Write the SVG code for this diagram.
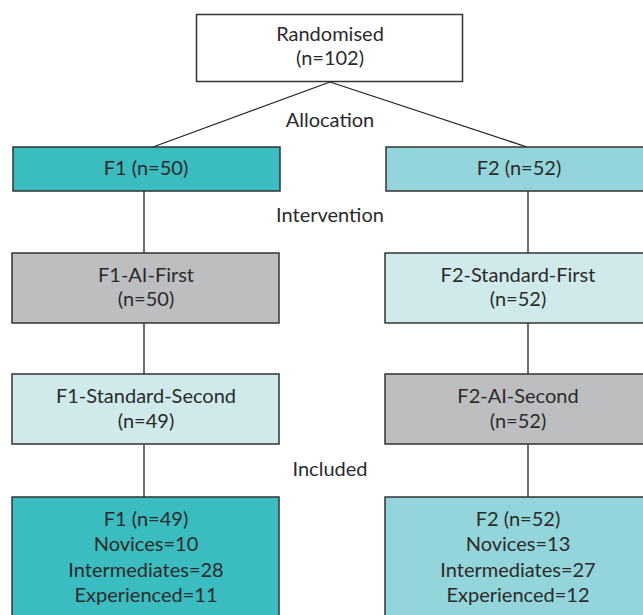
<svg xmlns="http://www.w3.org/2000/svg" width="643" height="615" viewBox="0 0 643 615">
<style>
  text { font-family: "Lato", "Open Sans", "Liberation Sans", sans-serif; font-size: 20px; fill: #2b2b2b; text-anchor: middle; }
  .box { stroke: #333; stroke-width: 1.5; }
  .white { fill: #ffffff; }
  .teal { fill: #3bbcc1; }
  .lteal { fill: #93d5da; }
  .grey { fill: #bdbec0; }
  .pale { fill: #d0eaec; }
  .conn line { stroke: #222; stroke-width: 1.3; }
</style>
<rect width="643" height="615" fill="#ffffff"/>
<g id="connectors" class="conn">
  <line x1="330" y1="82" x2="153" y2="147"/>
  <line x1="330" y1="82" x2="527" y2="147"/>
  <line x1="144" y1="191" x2="144" y2="253"/>
  <line x1="528" y1="191" x2="528" y2="253"/>
  <line x1="144" y1="323" x2="144" y2="374"/>
  <line x1="528" y1="323" x2="528" y2="374"/>
  <line x1="144" y1="444" x2="144" y2="497"/>
  <line x1="528" y1="444" x2="528" y2="497"/>
</g>
<g id="randomised">
  <rect class="box white" x="196.5" y="14.5" width="266" height="67"/>
  <text x="330" y="41">Randomised</text>
  <text x="330" y="65">(n=102)</text>
</g>
<g id="label-allocation"><text x="330" y="127">Allocation</text></g>
<g id="f1">
  <rect class="box teal" x="13" y="147" width="267" height="44"/>
  <text x="146" y="175">F1 (n=50)</text>
</g>
<g id="f2">
  <rect class="box lteal" x="386" y="147" width="267" height="44"/>
  <text x="519" y="175">F2 (n=52)</text>
</g>
<g id="label-intervention"><text x="330" y="222">Intervention</text></g>
<g id="f1-ai-first">
  <rect class="box grey" x="12" y="253" width="267" height="70"/>
  <text x="146" y="282">F1-AI-First</text>
  <text x="146" y="306">(n=50)</text>
</g>
<g id="f2-standard-first">
  <rect class="box pale" x="385" y="253" width="267" height="70"/>
  <text x="518" y="282">F2-Standard-First</text>
  <text x="518" y="306">(n=52)</text>
</g>
<g id="f1-standard-second">
  <rect class="box pale" x="12" y="374" width="267" height="70"/>
  <text x="146" y="403">F1-Standard-Second</text>
  <text x="146" y="428">(n=49)</text>
</g>
<g id="f2-ai-second">
  <rect class="box grey" x="385" y="374" width="267" height="70"/>
  <text x="518" y="403">F2-AI-Second</text>
  <text x="518" y="428">(n=52)</text>
</g>
<g id="label-included"><text x="330" y="476">Included</text></g>
<g id="f1-final">
  <rect class="box teal" x="12" y="497" width="267" height="130"/>
  <text x="146" y="526">F1 (n=49)</text>
  <text x="146" y="551">Novices=10</text>
  <text x="146" y="577">Intermediates=28</text>
  <text x="146" y="602">Experienced=11</text>
</g>
<g id="f2-final">
  <rect class="box lteal" x="385" y="497" width="267" height="130"/>
  <text x="518" y="526">F2 (n=52)</text>
  <text x="518" y="551">Novices=13</text>
  <text x="518" y="577">Intermediates=27</text>
  <text x="518" y="602">Experienced=12</text>
</g>
</svg>
